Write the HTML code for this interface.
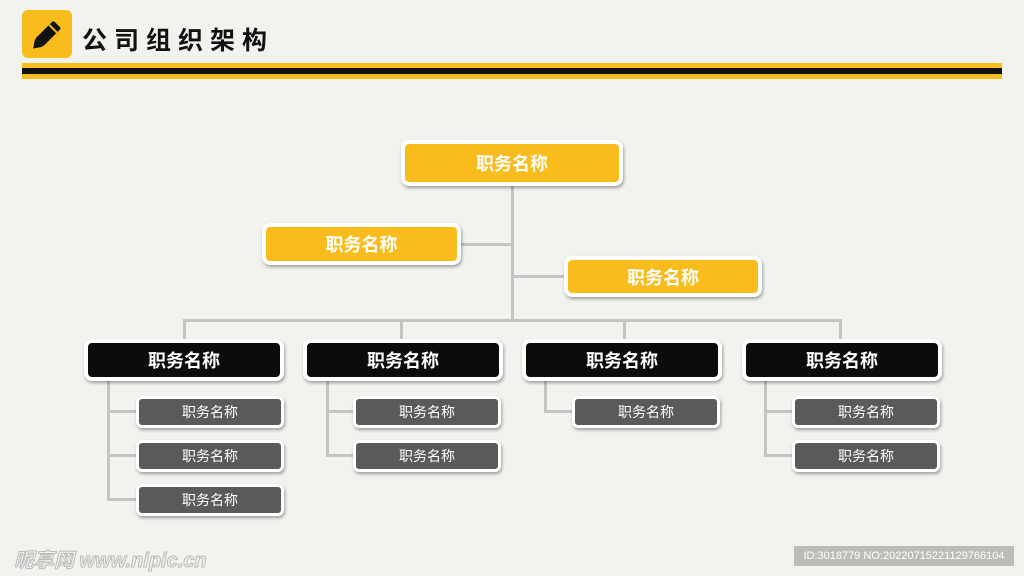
<!DOCTYPE html><html><head><meta charset="utf-8"><style>
body{margin:0;width:1024px;height:576px;background:#f2f2ee;position:relative;overflow:hidden;font-family:"Liberation Sans","Noto Sans CJK SC",sans-serif}
.b{position:absolute;box-sizing:border-box;border:4px solid #fff;border-radius:8px;box-shadow:1px 2px 3px rgba(0,0,0,.35);color:#fff;font-weight:bold;display:flex;align-items:center;justify-content:center}
.y{background:#f8bd1c;font-size:18px}
.k{background:#0c0c0c;font-size:18px}
.g{background:#5a5a5a;font-size:14px;font-weight:normal;border-width:3px;border-radius:6px}
.l{position:absolute;background:#c4c4c4}
</style></head><body>
<div style="position:absolute;left:22px;top:10px;width:50px;height:48px;background:#f8bd1c;border-radius:6px"></div>
<svg style="position:absolute;left:22px;top:10px" width="50" height="48"><g transform="rotate(-45 25 24)"><rect x="13" y="19" width="26" height="11" rx="2" fill="#111"/><polygon points="13,19 5,24.5 13,30" fill="#111"/><rect x="32" y="19" width="2" height="11" fill="#f8bd1c"/></g></svg>
<div style="position:absolute;left:82px;top:21px;font-size:25px;font-weight:bold;color:#111;letter-spacing:7px">公司组织架构</div>
<div style="position:absolute;left:22px;top:63px;width:980px;height:5px;background:#f8bd1c"></div>
<div style="position:absolute;left:22px;top:68px;width:980px;height:6px;background:#111"></div>
<div style="position:absolute;left:22px;top:74px;width:980px;height:5px;background:#f8bd1c"></div>

<div class="l" style="left:511px;top:186px;width:3px;height:136px"></div>
<div class="l" style="left:461px;top:243px;width:51px;height:3px"></div>
<div class="l" style="left:512px;top:275px;width:52px;height:3px"></div>
<div class="l" style="left:183px;top:319px;width:659px;height:3px"></div>
<div class="l" style="left:183px;top:319px;width:3px;height:22px"></div>
<div class="l" style="left:400px;top:319px;width:3px;height:22px"></div>
<div class="l" style="left:623px;top:319px;width:3px;height:22px"></div>
<div class="l" style="left:839px;top:319px;width:3px;height:22px"></div>

<div class="l" style="left:107px;top:381px;width:3px;height:119px"></div>
<div class="l" style="left:107px;top:410px;width:30px;height:3px"></div>
<div class="l" style="left:107px;top:454px;width:30px;height:3px"></div>
<div class="l" style="left:107px;top:498px;width:30px;height:3px"></div>
<div class="l" style="left:326px;top:381px;width:3px;height:75px"></div>
<div class="l" style="left:326px;top:410px;width:28px;height:3px"></div>
<div class="l" style="left:326px;top:454px;width:28px;height:3px"></div>
<div class="l" style="left:544px;top:381px;width:3px;height:32px"></div>
<div class="l" style="left:544px;top:410px;width:29px;height:3px"></div>
<div class="l" style="left:764px;top:381px;width:3px;height:75px"></div>
<div class="l" style="left:764px;top:410px;width:29px;height:3px"></div>
<div class="l" style="left:764px;top:454px;width:29px;height:3px"></div>

<div class="b y" style="left:401px;top:140px;width:222px;height:46px">职务名称</div>
<div class="b y" style="left:262px;top:223px;width:199px;height:42px">职务名称</div>
<div class="b y" style="left:564px;top:256px;width:198px;height:41px">职务名称</div>

<div class="b k" style="left:84px;top:339px;width:200px;height:42px">职务名称</div>
<div class="b k" style="left:303px;top:339px;width:200px;height:42px">职务名称</div>
<div class="b k" style="left:522px;top:339px;width:200px;height:42px">职务名称</div>
<div class="b k" style="left:742px;top:339px;width:200px;height:42px">职务名称</div>

<div class="b g" style="left:136px;top:396px;width:148px;height:32px">职务名称</div>
<div class="b g" style="left:136px;top:440px;width:148px;height:32px">职务名称</div>
<div class="b g" style="left:136px;top:484px;width:148px;height:32px">职务名称</div>
<div class="b g" style="left:353px;top:396px;width:148px;height:32px">职务名称</div>
<div class="b g" style="left:353px;top:440px;width:148px;height:32px">职务名称</div>
<div class="b g" style="left:572px;top:396px;width:148px;height:32px">职务名称</div>
<div class="b g" style="left:792px;top:396px;width:148px;height:32px">职务名称</div>
<div class="b g" style="left:792px;top:440px;width:148px;height:32px">职务名称</div>

<div style="position:absolute;left:14px;top:544px;font-size:20px;font-style:italic;font-weight:bold;color:#f2f2ee;-webkit-text-stroke:1px #bbb">昵享网 www.nipic.cn</div>
<div style="position:absolute;left:794px;top:546px;width:220px;height:20px;background:#bdbdb8;color:#fff;font-size:11px;line-height:20px;text-align:center">ID:3018779 NO:20220715221129766104</div>
</body></html>
